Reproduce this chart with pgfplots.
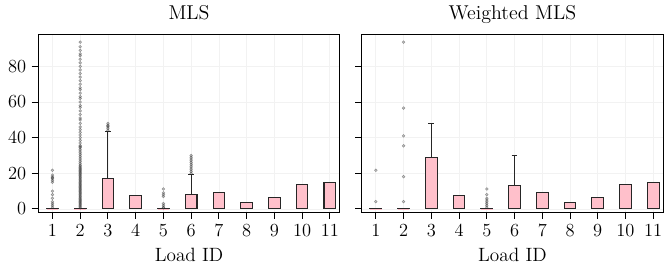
\documentclass[border=0pt]{standalone}
\usepackage{pgfplots}
\pgfplotsset{compat=1.18}
\usepgfplotslibrary{statistics}
\definecolor{boxpink}{RGB}{255,192,203}
\pgfplotsset{
  mybox/.style={boxplot prepared, draw=black!85, fill=boxpink, line width=0.7pt, solid,
    mark=*, mark size=0.9pt, mark options={draw=black, fill=gray, opacity=0.35, line width=0.35pt}},
  myaxis/.style={
    scale only axis, width=196pt, height=115.7pt,
    xmin=0.49, xmax=11.36, ymin=-1.9, ymax=98,
    xtick={1,...,11}, ytick={0,20,40,60,80},
    tick pos=left, tick align=outside, major tick length=4.3pt,
    tick style={black, line width=0.6pt},
    axis line style={line width=0.8pt},
    grid=major, major grid style={gray!10, line width=0.5pt},
    xlabel={Load ID},
    boxplot/draw direction=y,
    boxplot/box extend=0.42,
    boxplot/whisker extend=0.21,
    tick label style={font=\fontsize{12.5}{14}\selectfont},
    label style={font=\fontsize{12.5}{14}\selectfont},
    title style={font=\fontsize{13}{15}\selectfont, text depth=0.3ex, yshift=-1pt},
    xlabel style={yshift=-1pt},
  }
}
\newcommand\bx[4]{\addplot[mybox, boxplot prepared={draw position=#1, lower whisker=0, lower quartile=0, median=0, upper quartile=#2, upper whisker=#3}] coordinates {#4};}
\begin{document}
\begin{tikzpicture}
\begin{axis}[myaxis, title={MLS}]
\bx{1}{0.2}{0.4}{(0,1) (0,2) (0,3) (0,4) (0,6) (0,8) (0,10) (0,15) (0,16) (0,17) (0,17.5) (0,18) (0,19) (0,21.7)}
\bx{2}{0.2}{0.4}{(0,0.6) (0,1.2) (0,1.8) (0,2.4) (0,3) (0,3.6) (0,4.2) (0,4.8) (0,5.4) (0,6) (0,6.6) (0,7.2) (0,7.8) (0,8.4) (0,9) (0,9.6) (0,10.2) (0,10.8) (0,11.4) (0,12) (0,12.6) (0,13.2) (0,13.8) (0,14.4) (0,15) (0,15.6) (0,16.2) (0,16.8) (0,17.4) (0,18) (0,18.6) (0,19.2) (0,19.8) (0,20.4) (0,21) (0,21.6) (0,22.2) (0,22.8) (0,23.4) (0,24) (0,24.6) (0,25.5) (0,26.5) (0,27.5) (0,28.5) (0,29.5) (0,30.5) (0,31.5) (0,32.5) (0,33.5) (0,34.5) (0,35) (0,35.5) (0,37) (0,38.5) (0,40) (0,41.5) (0,43) (0,44.5) (0,46) (0,48) (0,50) (0,51) (0,53) (0,55) (0,57) (0,58) (0,60) (0,62) (0,63) (0,65) (0,67) (0,68) (0,70) (0,72) (0,74) (0,76) (0,78) (0,80) (0,82) (0,84) (0,86) (0,87) (0,89) (0,91) (0,93.6)}
\bx{3}{17.2}{43.4}{(0,44) (0,45) (0,46) (0,46.5) (0,47) (0,48)}
\bx{4}{7.5}{7.5}{}
\bx{5}{0.2}{0.4}{(0,0.6) (0,1) (0,2) (0,3) (0,7) (0,8) (0,9) (0,11.2)}
\bx{6}{7.9}{19.5}{(0,20) (0,21) (0,22) (0,23) (0,24) (0,25) (0,26) (0,27) (0,28) (0,29) (0,30)}
\bx{7}{9.2}{9.2}{}
\bx{8}{3.8}{3.8}{}
\bx{9}{6.2}{6.2}{}
\bx{10}{13.5}{13.5}{}
\bx{11}{15}{15}{}
\end{axis}
\begin{axis}[myaxis, at={(210.2pt,0pt)}, title={Weighted MLS}, yticklabels={}]
\bx{1}{0.2}{0.4}{(0,4.1) (0,21.7)}
\bx{2}{0.2}{0.4}{(0,4.1) (0,18.1) (0,35.4) (0,41) (0,56.6) (0,93.6)}
\bx{3}{28.7}{47.8}{}
\bx{4}{7.7}{7.7}{}
\bx{5}{0.2}{0.4}{(0,1) (0,2) (0,3) (0,4) (0,5) (0,6) (0,8) (0,11.2)}
\bx{6}{13.1}{29.8}{}
\bx{7}{9.2}{9.2}{}
\bx{8}{3.8}{3.8}{}
\bx{9}{6.2}{6.2}{}
\bx{10}{13.7}{13.7}{}
\bx{11}{15}{15}{}
\end{axis}
\pgfresetboundingbox
\useasboundingbox (-24.9pt,-35.6pt) rectangle (406.7pt,138pt);
\end{tikzpicture}
\end{document}
